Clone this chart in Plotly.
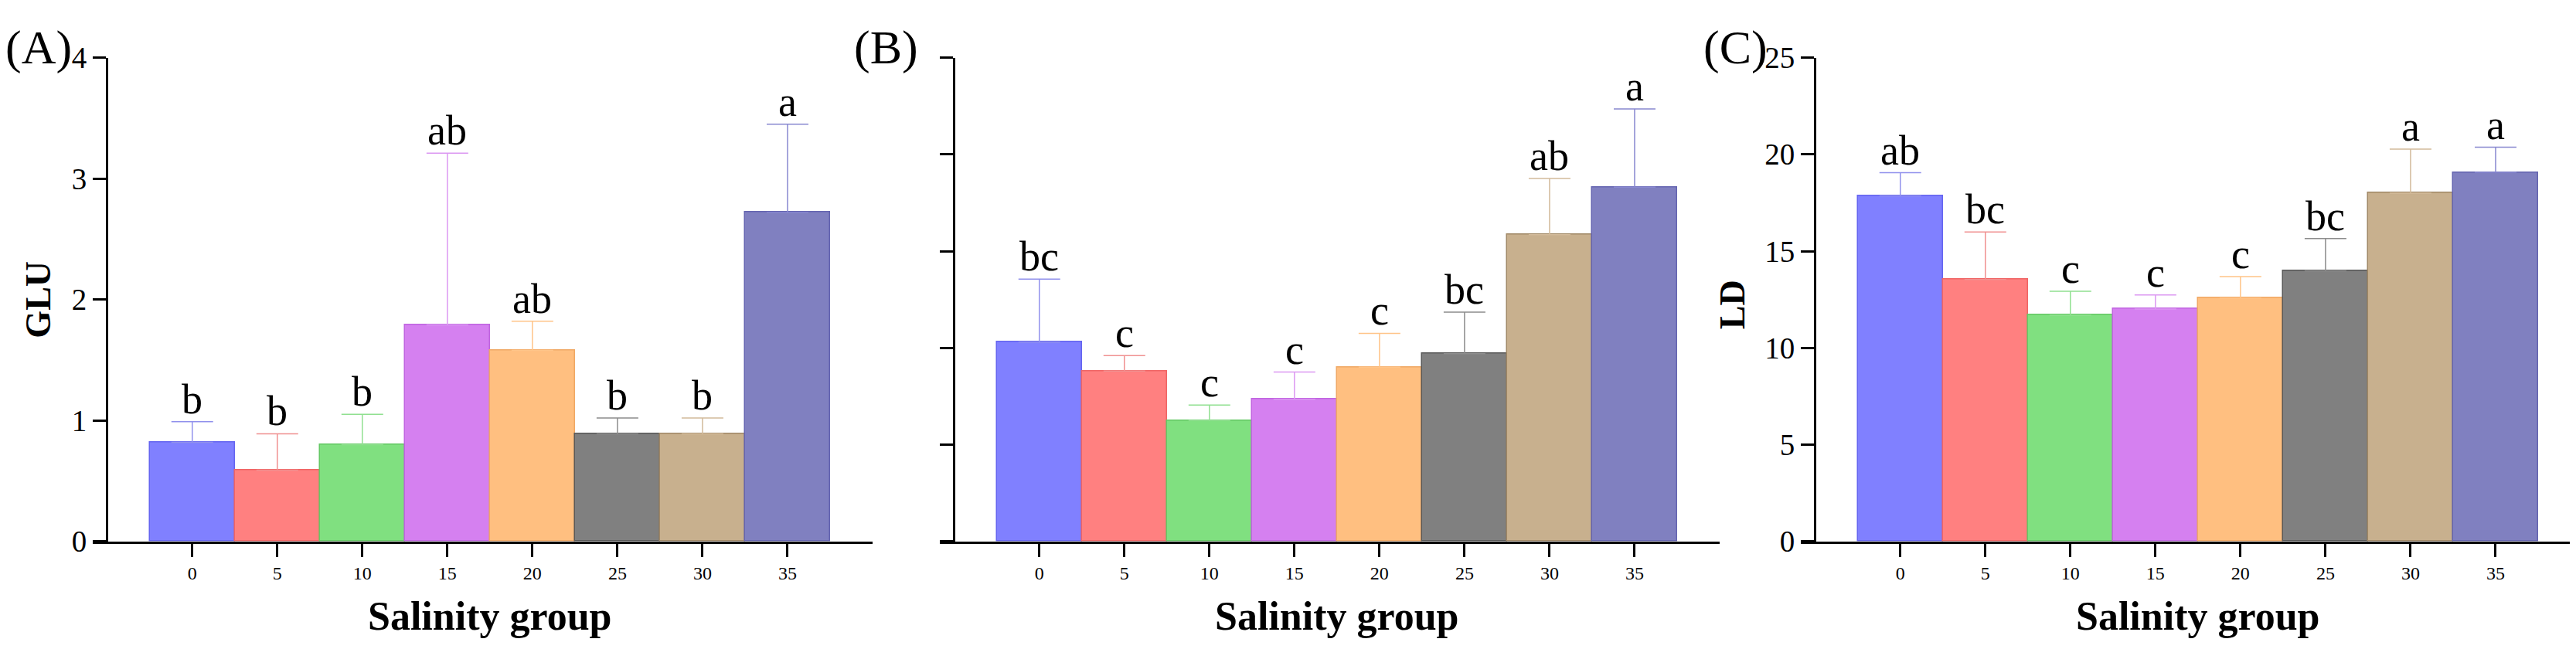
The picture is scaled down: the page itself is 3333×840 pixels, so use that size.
import plotly.graph_objects as go

groups = ["0", "5", "10", "15", "20", "25", "30", "35"]

glu_mean = [0.82, 0.59, 0.80, 1.79, 1.58, 0.89, 0.89, 2.72]
glu_err = [0.17, 0.30, 0.25, 1.42, 0.24, 0.13, 0.13, 0.73]
glu_letters = ["b", "b", "b", "ab", "ab", "b", "b", "a"]

b_mean = [2.06, 1.76, 1.25, 1.47, 1.80, 1.94, 3.17, 3.66]
b_err = [0.65, 0.16, 0.16, 0.28, 0.35, 0.43, 0.58, 0.81]
b_letters = ["bc", "c", "c", "c", "c", "bc", "ab", "a"]

ld_mean = [17.86, 13.53, 11.69, 12.01, 12.58, 13.98, 18.00, 19.07]
ld_err = [1.19, 2.46, 1.24, 0.73, 1.10, 1.67, 2.27, 1.30]
ld_letters = ["ab", "bc", "c", "c", "c", "bc", "a", "a"]

fill = ["#8080FF", "#FF8080", "#80E080", "#D580F0", "#FFBF80", "#808080", "#C8B08E", "#8080C0"]
edge = ["#6464F0", "#F06464", "#64C864", "#C064E0", "#F0A864", "#585858", "#A08866", "#6464B0"]
errc = ["#9090EC", "#F09090", "#90E090", "#DC98F2", "#FFC488", "#8C8C8C", "#D2BA9A", "#8888D0"]

W, H = 3333, 840
FONT = "Liberation Serif"

fig = go.Figure()

panels = [
    ("x", "y", glu_mean, glu_err, glu_letters, 112, [0, 4], 1, True),
    ("x2", "y2", b_mean, b_err, b_letters, 1208, [0, 5], 1, False),
    ("x3", "y3", ld_mean, ld_err, ld_letters, 2322, [0, 25], 5, True),
]

layout = {}
annotations = []
for i, (xa, ya, mean, err, letters, x0, yr, dt, showlab) in enumerate(panels):
    for j, g in enumerate(groups):
        fig.add_trace(go.Bar(
            x=[g], y=[mean[j]], xaxis=xa, yaxis=ya, width=1.0,
            marker=dict(color=fill[j], line=dict(color=edge[j], width=1.5)),
            error_y=dict(type="data", symmetric=False, array=[err[j]], arrayminus=[0],
                         color=errc[j], thickness=1.5, width=27),
            showlegend=False,
        ))
        # category index, numeric strings would be read as indices
        annotations.append(dict(
            x=j, y=mean[j] + err[j], xref=xa, yref=ya, text=letters[j],
            showarrow=False, yanchor="bottom", yshift=-3,
            font=dict(family=FONT, size=54, color="black"),
        ))
    xname = "xaxis" if i == 0 else "xaxis%d" % (i + 1)
    yname = "yaxis" if i == 0 else "yaxis%d" % (i + 1)
    layout[xname] = dict(
        domain=[x0 / W, (x0 + 1009) / W], anchor=ya, type="category",
        categoryorder="array", categoryarray=groups, range=[-1.17, 8.0],
        showline=True, linecolor="black", linewidth=3, ticks="outside",
        ticklen=17, tickwidth=3, tickcolor="black", showgrid=False, zeroline=False,
        tickfont=dict(family=FONT, size=24, color="black"),
    )
    layout[yname] = dict(
        domain=[132 / H, 792 / H], anchor="free", position=(x0 + 18) / W,
        range=yr, dtick=dt, tick0=0, showline=True, linecolor="black", linewidth=3,
        ticks="outside", ticklen=17, tickwidth=3, tickcolor="black",
        showgrid=False, zeroline=False, showticklabels=showlab,
        tickfont=dict(family=FONT, size=39, color="black"),
    )
    annotations.append(dict(
        x=3.5, y=(H - 810) / H, xref=xa, yref="paper", text="Salinity group",
        showarrow=False, yanchor="middle",
        font=dict(family=FONT, size=52, color="black", weight="bold"),
    ))

for txt, xc in [("(A)", 42), ("(B)", 1138), ("(C)", 2237)]:
    annotations.append(dict(
        x=xc / W, y=(H - 34) / H, xref="paper", yref="paper", text=txt,
        showarrow=False, xanchor="center", yanchor="middle",
        font=dict(family=FONT, size=62, color="black"),
    ))

for txt, xc, yc in [("GLU", 42, 378), ("LD", 2233, 385)]:
    annotations.append(dict(
        x=xc / W, y=(H - yc) / H, xref="paper", yref="paper", text=txt,
        showarrow=False, textangle=-90, xanchor="center", yanchor="middle",
        font=dict(family=FONT, size=46, color="black", weight="bold"),
    ))

fig.update_layout(
    width=W, height=H, margin=dict(l=0, r=0, t=0, b=0),
    plot_bgcolor="white", paper_bgcolor="white",
    barmode="overlay", bargap=0, annotations=annotations, **layout,
)

fig.write_html("out.html")
